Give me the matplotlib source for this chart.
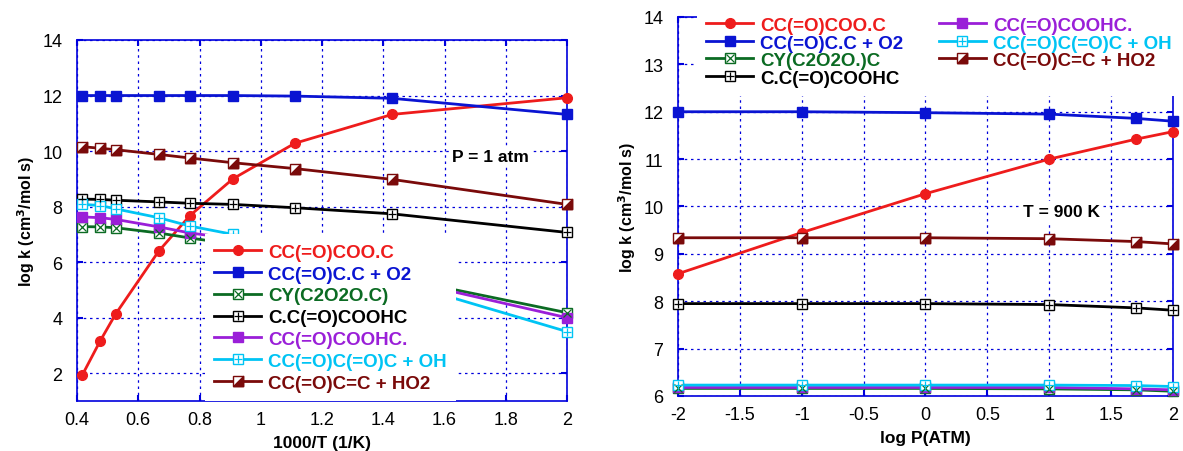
import numpy as np
import matplotlib.pyplot as plt
from matplotlib.legend_handler import HandlerTuple

plt.rcParams['font.family'] = ['Liberation Sans', 'DejaVu Sans']

# Left panel: k(T) at P = 1 atm
inv_t = [0.417, 0.476, 0.526, 0.667, 0.769, 0.909, 1.111, 1.429, 2.0]
left_vals = {
    'CC(=O)COO.C':       [1.93, 3.17, 4.13, 6.40, 7.68, 9.00, 10.28, 11.32, 11.92],
    'CC(=O)C.C + O2':    [12.0, 12.0, 12.0, 12.0, 12.0, 12.0, 11.98, 11.90, 11.32],
    'CY(C2O2O.C)':       [7.28, 7.27, 7.24, 7.05, 6.87, 6.65, 6.10, 5.47, 4.18],
    'C.C(=O)COOHC':      [8.27, 8.26, 8.23, 8.17, 8.12, 8.08, 7.96, 7.74, 7.07],
    'CC(=O)COOHC.':      [7.63, 7.60, 7.54, 7.27, 7.05, 6.85, 6.20, 5.44, 4.00],
    'CC(=O)C(=O)C + OH': [8.08, 8.04, 7.92, 7.60, 7.30, 7.00, 6.30, 5.36, 3.50],
    'CC(=O)C=C + HO2':   [10.16, 10.10, 10.05, 9.88, 9.75, 9.58, 9.37, 8.98, 8.08],
}

# Right panel: k(P) at T = 900 K
log_p = [-2, -1, 0, 1, 1.7, 2]
right_vals = {
    'CC(=O)COO.C':       [8.58, 9.45, 10.27, 11.00, 11.42, 11.58],
    'CC(=O)C.C + O2':    [12.0, 12.0, 11.98, 11.95, 11.86, 11.80],
    'CY(C2O2O.)C':       [6.16, 6.16, 6.16, 6.15, 6.13, 6.10],
    'C.C(=O)COOHC':      [7.95, 7.95, 7.95, 7.93, 7.86, 7.81],
    'CC(=O)COOHC.':      [6.18, 6.18, 6.18, 6.18, 6.15, 6.13],
    'CC(=O)C(=O)C + OH': [6.23, 6.23, 6.23, 6.23, 6.22, 6.20],
    'CC(=O)C=C + HO2':   [9.34, 9.34, 9.34, 9.32, 9.26, 9.21],
}

colors = ['#ee1c1c', '#0a14d2', '#0b6b23', '#000000', '#9a1fd8', '#00c4f4', '#7a0a0a']
# (base marker, filled?, overlay marker)
tri = [(-1, -1), (1, -1), (1, 1), (-1, -1)]
styles = [('o', True, None), ('s', True, None), ('s', False, 'x'), ('s', False, '+'),
          ('s', True, None), ('s', False, '+'), ('s', False, tri)]

BLUE = '#0000dd'


def draw(ax, x, vals):
    handles = []
    for (name, y), c, (m, filled, over) in zip(vals.items(), colors, styles):
        ms = 7 if m == 'o' else 7.5
        ln, = ax.plot(x, y, color=c, lw=2, marker=m, ms=ms,
                      mfc=c if filled else 'white', mec=c, mew=1,
                      clip_on=False, zorder=3)
        if over is not None:
            ov, = ax.plot(x, y, ls='none', marker=over, ms=7.5 if over == tri else 6,
                          color=c, mew=0.9, clip_on=False, zorder=4)
            handles.append(((ln, ov), name))
        else:
            handles.append((ln, name))
    return handles


def style(ax):
    ax.grid(True, color=BLUE, ls=(0, (2, 3)), lw=0.9)
    for s in ax.spines.values():
        s.set_color(BLUE)
        s.set_linewidth(1.2)
    ax.tick_params(direction='in', color=BLUE, width=1.5, length=4,
                   top=True, right=True, labelsize=13, labelcolor='black')
    ax.tick_params(axis='x', pad=7)
    ax.tick_params(axis='y', pad=10.5)


def legend(ax, h, **kw):
    leg = ax.legend([a for a, _ in h], [n for _, n in h], frameon=True, fancybox=False,
                    facecolor='white', edgecolor='none', framealpha=1,
                    prop=dict(size=13.5, weight='bold'), handlelength=2.5,
                    handletextpad=0.38, borderaxespad=0, borderpad=0.5,
                    handler_map={tuple: HandlerTuple(ndivide=1)}, **kw)
    leg.set_zorder(6)
    for t, c in zip(leg.get_texts(), colors):
        t.set_color(c)
    return leg


fig = plt.figure(figsize=(11.83, 4.52), dpi=100)

ax1 = fig.add_axes([0.0651, 0.1106, 0.4142, 0.7987])
h1 = draw(ax1, inv_t, left_vals)
style(ax1)
ax1.set_xlim(0.4, 2)
ax1.set_ylim(1, 14)
ax1.set_xticks(np.arange(0.4, 2.01, 0.2))
ax1.set_xticklabels(['0.4', '0.6', '0.8', '1', '1.2', '1.4', '1.6', '1.8', '2'])
ax1.set_yticks(range(2, 15, 2))
ax1.set_xlabel('1000/T (1/K)', fontsize=12.5, fontweight='bold', labelpad=5)
ax1.set_ylabel('log k (cm$^\\mathbf{3}$/mol s)', fontsize=11.5, fontweight='bold', labelpad=4)
ax1.text(1.75, 9.81, 'P = 1 atm', fontsize=12.5, fontweight='bold', ha='center', va='center',
         bbox=dict(facecolor='white', edgecolor='none', pad=2), zorder=5)
legend(ax1, h1, loc='lower left', bbox_to_anchor=(0.261, 0.0), labelspacing=0.25)

ax2 = fig.add_axes([0.5731, 0.1217, 0.4184, 0.8385])
h2 = draw(ax2, log_p, right_vals)
style(ax2)
ax2.set_xlim(-2, 2)
ax2.set_ylim(6, 14)
ax2.set_xticks(np.arange(-2, 2.01, 0.5))
ax2.set_xticklabels(['-2', '-1.5', '-1', '-0.5', '0', '0.5', '1', '1.5', '2'])
ax2.set_yticks(range(6, 15))
ax2.set_xlabel('log P(ATM)', fontsize=12.5, fontweight='bold', labelpad=5)
ax2.set_ylabel('log k (cm$^\\mathbf{3}$/mol s)', fontsize=11.5, fontweight='bold', labelpad=4)
ax2.text(1.1, 9.9, 'T = 900 K', fontsize=12.5, fontweight='bold', ha='center', va='center',
         bbox=dict(facecolor='white', edgecolor='none', pad=2), zorder=5)
legend(ax2, h2, loc='upper left', bbox_to_anchor=(0.038, 1.025), ncol=2,
       labelspacing=0.02, columnspacing=1.9)

fig.savefig('out.png', dpi=100)
